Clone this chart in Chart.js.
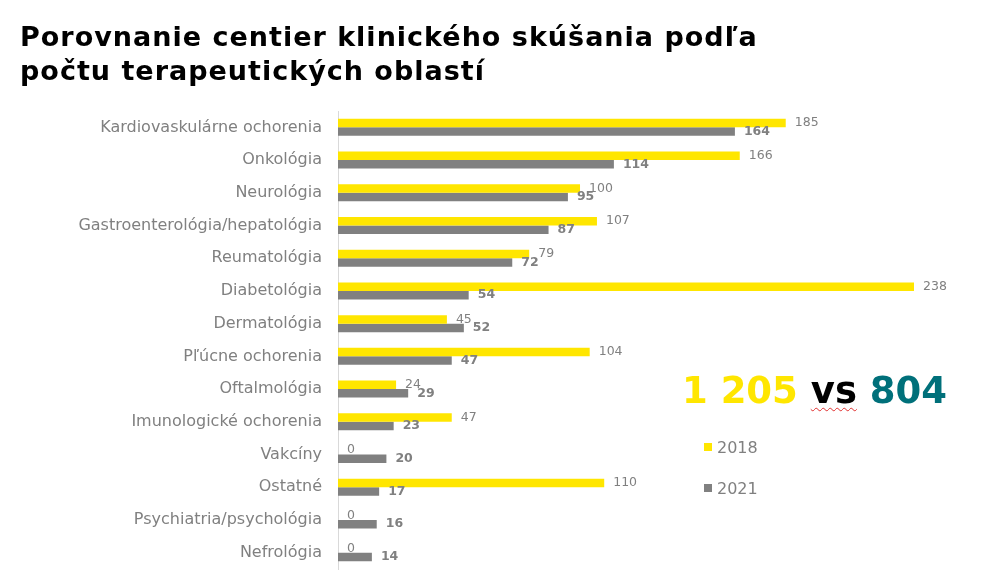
<!DOCTYPE html>
<html>
<head>
<meta charset="utf-8">
<script src="https://cdn.jsdelivr.net/npm/chart.js@4/dist/chart.umd.min.js"></script>
<style>
  html, body { margin: 0; padding: 0; background: #fff; }
  #wrap { position: relative; width: 985px; height: 573px; overflow: hidden; font-family: "DejaVu Sans", Verdana, sans-serif; }
  #chart { position: absolute; left: 0; top: 0; }
  #title { position: absolute; left: 20px; top: 20px; font-weight: bold; font-size: 27px; letter-spacing: 1px; line-height: 33.5px; color: #000; white-space: nowrap; }
  #total { position: absolute; left: 682px; top: 368px; font-weight: bold; font-size: 37px; line-height: 46px; white-space: pre; }
  #total .a { color: #FFE600; }
  #total .b { color: #000; text-decoration: underline wavy #e03030; text-decoration-thickness: 1px; text-underline-offset: 4px; }
  #total .c { color: #00707A; }
  #legend { position: absolute; left: 704px; top: 436px; font-size: 16px; color: #808080; }
  .li { position: absolute; left: 0; white-space: nowrap; display: flex; align-items: center; height: 22px; }
  .sw { width: 8px; height: 8px; margin-right: 5px; }
</style>
</head>
<body>
<div id="wrap">
  <canvas id="chart" width="985" height="573"></canvas>
  <div id="title">Porovnanie centier klinického skúšania podľa<br>počtu terapeutických oblastí</div>
  <div id="total"><span class="a">1 205</span> <span class="b">vs</span> <span class="c">804</span></div>
  <div id="legend"></div>
</div>
<script>
const categories = [
  "Kardiovaskulárne ochorenia", "Onkológia", "Neurológia", "Gastroenterológia/hepatológia",
  "Reumatológia", "Diabetológia", "Dermatológia", "Pľúcne ochorenia", "Oftalmológia",
  "Imunologické ochorenia", "Vakcíny", "Ostatné", "Psychiatria/psychológia", "Nefrológia"
];
const values2018 = [185, 166, 100, 107, 79, 238, 45, 104, 24, 47, 0, 110, 0, 0];
const values2021 = [164, 114, 95, 87, 72, 54, 52, 47, 29, 23, 20, 17, 16, 14];
const seriesNames = ["2018", "2021"];

const labelPlugin = {
  id: 'barLabels',
  afterDatasetsDraw(chart) {
    const ctx = chart.ctx;
    ctx.save();
    chart.data.datasets.forEach((ds, di) => {
      const meta = chart.getDatasetMeta(di);
      ctx.font = di === 0 ? '12.5px "DejaVu Sans", Verdana, sans-serif' : 'bold 12.5px "DejaVu Sans", Verdana, sans-serif';
      ctx.fillStyle = '#808080';
      ctx.textAlign = 'left';
      ctx.textBaseline = 'middle';
      meta.data.forEach((bar, i) => {
        ctx.fillText(String(ds.data[i]), bar.x + 9, bar.y);
      });
    });
    ctx.restore();
  }
};

const chart = new Chart(document.getElementById('chart'), {
  type: 'bar',
  data: {
    labels: categories,
    datasets: [
      { label: seriesNames[0], data: values2018, backgroundColor: '#FFE600', categoryPercentage: 0.52, barPercentage: 1.0 },
      { label: seriesNames[1], data: values2021, backgroundColor: '#808080', categoryPercentage: 0.52, barPercentage: 1.0 }
    ]
  },
  options: {
    indexAxis: 'y',
    responsive: false,
    animation: false,
    layout: { padding: { top: 111, bottom: 4, left: 0, right: 71 } },
    plugins: { legend: { display: false }, tooltip: { enabled: false } },
    scales: {
      x: { display: false, min: 0, max: 238 },
      y: {
        afterFit(s) { s.width = 338; s.paddingTop = 0; s.paddingBottom = 0; },
        grid: { display: false, drawTicks: false },
        border: { display: true, color: '#d9d9d9', width: 1 },
        ticks: { padding: 16, color: '#808080', font: { family: '"DejaVu Sans", Verdana, sans-serif', size: 16 } }
      }
    }
  },
  plugins: [labelPlugin]
});

const legend = document.getElementById('legend');
chart.data.datasets.forEach((ds, i) => {
  const d = document.createElement('div');
  d.className = 'li';
  d.style.top = (i * 41) + 'px';
  d.innerHTML = '<span class="sw" style="background:' + ds.backgroundColor + '"></span>' + ds.label;
  legend.appendChild(d);
});
</script>
</body>
</html>
